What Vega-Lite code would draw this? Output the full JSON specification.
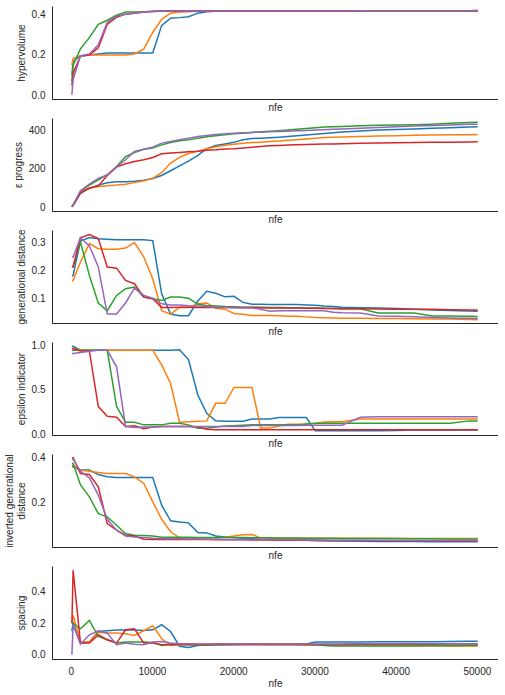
{
"$schema":"https://vega.github.io/schema/vega-lite/v6.json",
"padding":{"left":4,"top":6,"right":0,"bottom":0},
"bounds":"flush",
"spacing":19,
"config":{"view":{"stroke":null},"font":"Liberation Sans",
"axis":{"domainColor":"#262626","domainWidth":1,"labelColor":"#262626","titleColor":"#262626","labelFontSize":10,"titleFontSize":10,"titleFontWeight":"normal","grid":false,"ticks":false,"labelPadding":7},
"axisY":{"titlePadding":5},
"line":{"strokeWidth":1.5}},
"data":{"values":[
{"r":"a","x":150,"hv":0.1,"ep":2,"gd":0.18,"ei":0.989,"igd":0.36,"sp":0.15},
{"r":"a","x":300,"hv":0.17,"ep":10,"gd":0.182,"ei":0.989,"igd":0.36,"sp":0.2},
{"r":"a","x":1200,"hv":0.195,"ep":72,"gd":0.305,"ei":0.944,"igd":0.345,"sp":0.074},
{"r":"a","x":2300,"hv":0.2,"ep":99,"gd":0.318,"ei":0.944,"igd":0.345,"sp":0.08},
{"r":"a","x":3400,"hv":0.205,"ep":115,"gd":0.314,"ei":0.944,"igd":0.325,"sp":0.147},
{"r":"a","x":4500,"hv":0.21,"ep":127,"gd":0.312,"ei":0.944,"igd":0.315,"sp":0.152},
{"r":"a","x":5650,"hv":0.21,"ep":132,"gd":0.31,"ei":0.944,"igd":0.312,"sp":0.156},
{"r":"a","x":6750,"hv":0.21,"ep":133,"gd":0.31,"ei":0.944,"igd":0.312,"sp":0.156},
{"r":"a","x":7850,"hv":0.21,"ep":135,"gd":0.31,"ei":0.944,"igd":0.312,"sp":0.156},
{"r":"a","x":9000,"hv":0.21,"ep":140,"gd":0.31,"ei":0.944,"igd":0.312,"sp":0.154},
{"r":"a","x":10100,"hv":0.21,"ep":150,"gd":0.307,"ei":0.944,"igd":0.312,"sp":0.158},
{"r":"a","x":11200,"hv":0.345,"ep":165,"gd":0.116,"ei":0.944,"igd":0.188,"sp":0.19},
{"r":"a","x":12300,"hv":0.38,"ep":190,"gd":0.043,"ei":0.944,"igd":0.118,"sp":0.147},
{"r":"a","x":13400,"hv":0.383,"ep":215,"gd":0.037,"ei":0.95,"igd":0.113,"sp":0.053},
{"r":"a","x":14500,"hv":0.387,"ep":240,"gd":0.037,"ei":0.84,"igd":0.109,"sp":0.046},
{"r":"a","x":15650,"hv":0.405,"ep":270,"gd":0.09,"ei":0.44,"igd":0.066,"sp":0.059},
{"r":"a","x":16750,"hv":0.412,"ep":305,"gd":0.125,"ei":0.235,"igd":0.064,"sp":0.063},
{"r":"a","x":17850,"hv":0.414,"ep":322,"gd":0.118,"ei":0.15,"igd":0.05,"sp":0.068},
{"r":"a","x":19000,"hv":0.415,"ep":330,"gd":0.105,"ei":0.145,"igd":0.046,"sp":0.068},
{"r":"a","x":20100,"hv":0.415,"ep":338,"gd":0.107,"ei":0.145,"igd":0.043,"sp":0.068},
{"r":"a","x":21200,"hv":0.415,"ep":352,"gd":0.085,"ei":0.145,"igd":0.04,"sp":0.068},
{"r":"a","x":22300,"hv":0.415,"ep":358,"gd":0.078,"ei":0.169,"igd":0.038,"sp":0.068},
{"r":"a","x":23400,"hv":0.415,"ep":360,"gd":0.078,"ei":0.169,"igd":0.036,"sp":0.068},
{"r":"a","x":24500,"hv":0.415,"ep":362,"gd":0.077,"ei":0.169,"igd":0.035,"sp":0.068},
{"r":"a","x":25650,"hv":0.415,"ep":365,"gd":0.077,"ei":0.187,"igd":0.034,"sp":0.068},
{"r":"a","x":26750,"hv":0.415,"ep":368,"gd":0.077,"ei":0.187,"igd":0.033,"sp":0.068},
{"r":"a","x":27850,"hv":0.415,"ep":372,"gd":0.077,"ei":0.187,"igd":0.032,"sp":0.068},
{"r":"a","x":29000,"hv":0.415,"ep":376,"gd":0.076,"ei":0.187,"igd":0.031,"sp":0.068},
{"r":"a","x":30100,"hv":0.415,"ep":380,"gd":0.075,"ei":0.037,"igd":0.03,"sp":0.08},
{"r":"a","x":31200,"hv":0.415,"ep":384,"gd":0.072,"ei":0.037,"igd":0.029,"sp":0.08},
{"r":"a","x":32300,"hv":0.415,"ep":388,"gd":0.07,"ei":0.037,"igd":0.028,"sp":0.08},
{"r":"a","x":33400,"hv":0.415,"ep":392,"gd":0.068,"ei":0.037,"igd":0.028,"sp":0.08},
{"r":"a","x":35650,"hv":0.416,"ep":397,"gd":0.066,"ei":0.037,"igd":0.027,"sp":0.081},
{"r":"a","x":37850,"hv":0.416,"ep":402,"gd":0.065,"ei":0.037,"igd":0.026,"sp":0.082},
{"r":"a","x":40100,"hv":0.416,"ep":405,"gd":0.063,"ei":0.04,"igd":0.026,"sp":0.082},
{"r":"a","x":42300,"hv":0.416,"ep":408,"gd":0.06,"ei":0.045,"igd":0.026,"sp":0.083},
{"r":"a","x":44500,"hv":0.416,"ep":411,"gd":0.058,"ei":0.045,"igd":0.025,"sp":0.083},
{"r":"a","x":46750,"hv":0.416,"ep":414,"gd":0.056,"ei":0.045,"igd":0.025,"sp":0.084},
{"r":"a","x":49000,"hv":0.416,"ep":418,"gd":0.054,"ei":0.045,"igd":0.025,"sp":0.085},
{"r":"a","x":50100,"hv":0.416,"ep":420,"gd":0.053,"ei":0.045,"igd":0.025,"sp":0.085},
{"r":"b","x":150,"hv":0.15,"ep":2,"gd":0.164,"ei":0.963,"igd":0.367,"sp":0.2},
{"r":"b","x":300,"hv":0.185,"ep":10,"gd":0.164,"ei":0.963,"igd":0.367,"sp":0.25},
{"r":"b","x":1200,"hv":0.195,"ep":80,"gd":0.23,"ei":0.944,"igd":0.345,"sp":0.08},
{"r":"b","x":2300,"hv":0.2,"ep":100,"gd":0.296,"ei":0.944,"igd":0.34,"sp":0.08},
{"r":"b","x":3400,"hv":0.2,"ep":108,"gd":0.278,"ei":0.944,"igd":0.334,"sp":0.143},
{"r":"b","x":4500,"hv":0.2,"ep":112,"gd":0.276,"ei":0.944,"igd":0.33,"sp":0.137},
{"r":"b","x":5650,"hv":0.2,"ep":115,"gd":0.276,"ei":0.944,"igd":0.33,"sp":0.137},
{"r":"b","x":6750,"hv":0.2,"ep":120,"gd":0.28,"ei":0.944,"igd":0.33,"sp":0.133},
{"r":"b","x":7850,"hv":0.205,"ep":128,"gd":0.3,"ei":0.944,"igd":0.315,"sp":0.122},
{"r":"b","x":9000,"hv":0.23,"ep":138,"gd":0.248,"ei":0.944,"igd":0.285,"sp":0.152},
{"r":"b","x":10100,"hv":0.31,"ep":150,"gd":0.17,"ei":0.944,"igd":0.203,"sp":0.183},
{"r":"b","x":11200,"hv":0.375,"ep":180,"gd":0.055,"ei":0.78,"igd":0.125,"sp":0.101},
{"r":"b","x":12300,"hv":0.405,"ep":230,"gd":0.043,"ei":0.57,"igd":0.069,"sp":0.059},
{"r":"b","x":13400,"hv":0.41,"ep":260,"gd":0.067,"ei":0.134,"igd":0.042,"sp":0.063},
{"r":"b","x":14500,"hv":0.412,"ep":280,"gd":0.067,"ei":0.14,"igd":0.04,"sp":0.065},
{"r":"b","x":15650,"hv":0.414,"ep":292,"gd":0.08,"ei":0.145,"igd":0.04,"sp":0.065},
{"r":"b","x":16750,"hv":0.415,"ep":305,"gd":0.083,"ei":0.149,"igd":0.042,"sp":0.065},
{"r":"b","x":17850,"hv":0.415,"ep":315,"gd":0.064,"ei":0.347,"igd":0.042,"sp":0.065},
{"r":"b","x":19000,"hv":0.415,"ep":323,"gd":0.06,"ei":0.347,"igd":0.045,"sp":0.065},
{"r":"b","x":20100,"hv":0.415,"ep":328,"gd":0.045,"ei":0.526,"igd":0.05,"sp":0.065},
{"r":"b","x":21200,"hv":0.415,"ep":333,"gd":0.042,"ei":0.526,"igd":0.056,"sp":0.065},
{"r":"b","x":22300,"hv":0.415,"ep":337,"gd":0.038,"ei":0.526,"igd":0.057,"sp":0.065},
{"r":"b","x":23400,"hv":0.415,"ep":339,"gd":0.038,"ei":0.07,"igd":0.042,"sp":0.065},
{"r":"b","x":24500,"hv":0.415,"ep":342,"gd":0.038,"ei":0.07,"igd":0.04,"sp":0.064},
{"r":"b","x":25650,"hv":0.415,"ep":345,"gd":0.037,"ei":0.09,"igd":0.04,"sp":0.064},
{"r":"b","x":26750,"hv":0.415,"ep":349,"gd":0.035,"ei":0.11,"igd":0.04,"sp":0.063},
{"r":"b","x":27850,"hv":0.415,"ep":352,"gd":0.035,"ei":0.112,"igd":0.04,"sp":0.063},
{"r":"b","x":29000,"hv":0.415,"ep":356,"gd":0.033,"ei":0.112,"igd":0.04,"sp":0.062},
{"r":"b","x":30100,"hv":0.415,"ep":360,"gd":0.031,"ei":0.12,"igd":0.04,"sp":0.062},
{"r":"b","x":31200,"hv":0.415,"ep":363,"gd":0.03,"ei":0.135,"igd":0.04,"sp":0.061},
{"r":"b","x":32300,"hv":0.415,"ep":365,"gd":0.029,"ei":0.14,"igd":0.04,"sp":0.06},
{"r":"b","x":33400,"hv":0.415,"ep":366,"gd":0.028,"ei":0.14,"igd":0.04,"sp":0.06},
{"r":"b","x":35650,"hv":0.416,"ep":369,"gd":0.028,"ei":0.17,"igd":0.04,"sp":0.059},
{"r":"b","x":37850,"hv":0.416,"ep":371,"gd":0.027,"ei":0.17,"igd":0.04,"sp":0.058},
{"r":"b","x":40100,"hv":0.416,"ep":373,"gd":0.027,"ei":0.17,"igd":0.04,"sp":0.058},
{"r":"b","x":42300,"hv":0.416,"ep":375,"gd":0.026,"ei":0.17,"igd":0.039,"sp":0.057},
{"r":"b","x":44500,"hv":0.416,"ep":376,"gd":0.025,"ei":0.17,"igd":0.039,"sp":0.057},
{"r":"b","x":46750,"hv":0.416,"ep":377,"gd":0.025,"ei":0.17,"igd":0.039,"sp":0.056},
{"r":"b","x":49000,"hv":0.416,"ep":378,"gd":0.024,"ei":0.17,"igd":0.039,"sp":0.055},
{"r":"b","x":50100,"hv":0.417,"ep":379,"gd":0.023,"ei":0.17,"igd":0.039,"sp":0.055},
{"r":"c","x":150,"hv":0.07,"ep":2,"gd":0.212,"ei":0.944,"igd":0.375,"sp":0.2},
{"r":"c","x":300,"hv":0.15,"ep":10,"gd":0.212,"ei":0.944,"igd":0.375,"sp":0.2},
{"r":"c","x":1200,"hv":0.23,"ep":82,"gd":0.302,"ei":0.944,"igd":0.28,"sp":0.164},
{"r":"c","x":2300,"hv":0.285,"ep":115,"gd":0.182,"ei":0.944,"igd":0.225,"sp":0.217},
{"r":"c","x":3400,"hv":0.35,"ep":143,"gd":0.083,"ei":0.944,"igd":0.15,"sp":0.116},
{"r":"c","x":4500,"hv":0.37,"ep":169,"gd":0.055,"ei":0.944,"igd":0.136,"sp":0.095},
{"r":"c","x":5650,"hv":0.395,"ep":212,"gd":0.11,"ei":0.31,"igd":0.098,"sp":0.074},
{"r":"c","x":6750,"hv":0.41,"ep":264,"gd":0.134,"ei":0.134,"igd":0.061,"sp":0.08},
{"r":"c","x":7850,"hv":0.41,"ep":285,"gd":0.14,"ei":0.134,"igd":0.054,"sp":0.08},
{"r":"c","x":9000,"hv":0.412,"ep":302,"gd":0.104,"ei":0.104,"igd":0.052,"sp":0.08},
{"r":"c","x":10100,"hv":0.414,"ep":308,"gd":0.098,"ei":0.104,"igd":0.05,"sp":0.078},
{"r":"c","x":11200,"hv":0.415,"ep":325,"gd":0.092,"ei":0.104,"igd":0.045,"sp":0.059},
{"r":"c","x":12300,"hv":0.415,"ep":337,"gd":0.104,"ei":0.123,"igd":0.045,"sp":0.065},
{"r":"c","x":13400,"hv":0.415,"ep":346,"gd":0.104,"ei":0.123,"igd":0.045,"sp":0.065},
{"r":"c","x":14500,"hv":0.415,"ep":351,"gd":0.1,"ei":0.104,"igd":0.045,"sp":0.063},
{"r":"c","x":15650,"hv":0.415,"ep":360,"gd":0.078,"ei":0.067,"igd":0.044,"sp":0.062},
{"r":"c","x":16750,"hv":0.415,"ep":367,"gd":0.074,"ei":0.067,"igd":0.044,"sp":0.06},
{"r":"c","x":17850,"hv":0.415,"ep":372,"gd":0.072,"ei":0.08,"igd":0.044,"sp":0.062},
{"r":"c","x":19000,"hv":0.415,"ep":377,"gd":0.07,"ei":0.09,"igd":0.043,"sp":0.063},
{"r":"c","x":20100,"hv":0.415,"ep":383,"gd":0.069,"ei":0.095,"igd":0.043,"sp":0.064},
{"r":"c","x":21200,"hv":0.415,"ep":386,"gd":0.068,"ei":0.1,"igd":0.043,"sp":0.065},
{"r":"c","x":22300,"hv":0.415,"ep":390,"gd":0.068,"ei":0.104,"igd":0.042,"sp":0.065},
{"r":"c","x":23400,"hv":0.415,"ep":393,"gd":0.068,"ei":0.104,"igd":0.042,"sp":0.065},
{"r":"c","x":24500,"hv":0.415,"ep":396,"gd":0.067,"ei":0.104,"igd":0.042,"sp":0.065},
{"r":"c","x":25650,"hv":0.415,"ep":399,"gd":0.067,"ei":0.104,"igd":0.041,"sp":0.065},
{"r":"c","x":26750,"hv":0.415,"ep":402,"gd":0.066,"ei":0.104,"igd":0.041,"sp":0.065},
{"r":"c","x":27850,"hv":0.415,"ep":406,"gd":0.066,"ei":0.104,"igd":0.041,"sp":0.065},
{"r":"c","x":29000,"hv":0.415,"ep":410,"gd":0.065,"ei":0.115,"igd":0.04,"sp":0.064},
{"r":"c","x":30100,"hv":0.415,"ep":414,"gd":0.065,"ei":0.122,"igd":0.04,"sp":0.064},
{"r":"c","x":31200,"hv":0.415,"ep":418,"gd":0.064,"ei":0.122,"igd":0.04,"sp":0.058},
{"r":"c","x":32300,"hv":0.415,"ep":420,"gd":0.063,"ei":0.122,"igd":0.04,"sp":0.055},
{"r":"c","x":33400,"hv":0.415,"ep":421,"gd":0.062,"ei":0.122,"igd":0.039,"sp":0.055},
{"r":"c","x":35650,"hv":0.416,"ep":424,"gd":0.062,"ei":0.122,"igd":0.039,"sp":0.055},
{"r":"c","x":37850,"hv":0.416,"ep":427,"gd":0.047,"ei":0.122,"igd":0.039,"sp":0.055},
{"r":"c","x":40100,"hv":0.416,"ep":428,"gd":0.047,"ei":0.122,"igd":0.038,"sp":0.056},
{"r":"c","x":42300,"hv":0.416,"ep":430,"gd":0.047,"ei":0.122,"igd":0.038,"sp":0.056},
{"r":"c","x":44500,"hv":0.416,"ep":433,"gd":0.036,"ei":0.122,"igd":0.038,"sp":0.057},
{"r":"c","x":46750,"hv":0.416,"ep":437,"gd":0.036,"ei":0.122,"igd":0.037,"sp":0.057},
{"r":"c","x":49000,"hv":0.416,"ep":441,"gd":0.035,"ei":0.149,"igd":0.037,"sp":0.058},
{"r":"c","x":50100,"hv":0.417,"ep":443,"gd":0.034,"ei":0.149,"igd":0.037,"sp":0.058},
{"r":"d","x":150,"hv":0.05,"ep":2,"gd":0.212,"ei":0.963,"igd":0.4,"sp":0.2},
{"r":"d","x":300,"hv":0.11,"ep":10,"gd":0.215,"ei":0.963,"igd":0.4,"sp":0.535},
{"r":"d","x":1200,"hv":0.195,"ep":73,"gd":0.317,"ei":0.937,"igd":0.33,"sp":0.074},
{"r":"d","x":2300,"hv":0.2,"ep":99,"gd":0.329,"ei":0.937,"igd":0.325,"sp":0.074},
{"r":"d","x":3400,"hv":0.235,"ep":111,"gd":0.314,"ei":0.31,"igd":0.27,"sp":0.126},
{"r":"d","x":4500,"hv":0.35,"ep":165,"gd":0.212,"ei":0.2,"igd":0.106,"sp":0.095},
{"r":"d","x":5650,"hv":0.385,"ep":209,"gd":0.208,"ei":0.19,"igd":0.076,"sp":0.074},
{"r":"d","x":6750,"hv":0.4,"ep":226,"gd":0.164,"ei":0.086,"igd":0.054,"sp":0.158},
{"r":"d","x":7850,"hv":0.405,"ep":238,"gd":0.152,"ei":0.095,"igd":0.05,"sp":0.164},
{"r":"d","x":9000,"hv":0.41,"ep":247,"gd":0.104,"ei":0.06,"igd":0.036,"sp":0.074},
{"r":"d","x":10100,"hv":0.413,"ep":259,"gd":0.098,"ei":0.08,"igd":0.035,"sp":0.074},
{"r":"d","x":11200,"hv":0.415,"ep":278,"gd":0.067,"ei":0.085,"igd":0.035,"sp":0.063},
{"r":"d","x":12300,"hv":0.416,"ep":282,"gd":0.067,"ei":0.085,"igd":0.035,"sp":0.065},
{"r":"d","x":13400,"hv":0.416,"ep":285,"gd":0.068,"ei":0.085,"igd":0.034,"sp":0.065},
{"r":"d","x":14500,"hv":0.416,"ep":289,"gd":0.068,"ei":0.085,"igd":0.034,"sp":0.065},
{"r":"d","x":15650,"hv":0.416,"ep":292,"gd":0.067,"ei":0.08,"igd":0.034,"sp":0.065},
{"r":"d","x":16750,"hv":0.416,"ep":297,"gd":0.067,"ei":0.055,"igd":0.034,"sp":0.065},
{"r":"d","x":17850,"hv":0.416,"ep":299,"gd":0.067,"ei":0.05,"igd":0.033,"sp":0.065},
{"r":"d","x":19000,"hv":0.416,"ep":303,"gd":0.067,"ei":0.05,"igd":0.033,"sp":0.065},
{"r":"d","x":20100,"hv":0.416,"ep":304,"gd":0.067,"ei":0.05,"igd":0.033,"sp":0.065},
{"r":"d","x":21200,"hv":0.416,"ep":308,"gd":0.067,"ei":0.05,"igd":0.033,"sp":0.065},
{"r":"d","x":22300,"hv":0.416,"ep":313,"gd":0.067,"ei":0.05,"igd":0.032,"sp":0.065},
{"r":"d","x":23400,"hv":0.416,"ep":316,"gd":0.066,"ei":0.05,"igd":0.032,"sp":0.065},
{"r":"d","x":24500,"hv":0.416,"ep":320,"gd":0.065,"ei":0.05,"igd":0.032,"sp":0.065},
{"r":"d","x":25650,"hv":0.416,"ep":322,"gd":0.065,"ei":0.049,"igd":0.031,"sp":0.065},
{"r":"d","x":26750,"hv":0.416,"ep":324,"gd":0.065,"ei":0.049,"igd":0.031,"sp":0.065},
{"r":"d","x":27850,"hv":0.416,"ep":326,"gd":0.065,"ei":0.049,"igd":0.031,"sp":0.065},
{"r":"d","x":29000,"hv":0.416,"ep":327,"gd":0.064,"ei":0.049,"igd":0.031,"sp":0.065},
{"r":"d","x":30100,"hv":0.416,"ep":328,"gd":0.064,"ei":0.048,"igd":0.03,"sp":0.065},
{"r":"d","x":31200,"hv":0.416,"ep":329,"gd":0.063,"ei":0.048,"igd":0.03,"sp":0.065},
{"r":"d","x":32300,"hv":0.416,"ep":330,"gd":0.063,"ei":0.048,"igd":0.03,"sp":0.065},
{"r":"d","x":33400,"hv":0.416,"ep":331,"gd":0.062,"ei":0.048,"igd":0.03,"sp":0.065},
{"r":"d","x":35650,"hv":0.417,"ep":333,"gd":0.062,"ei":0.048,"igd":0.03,"sp":0.066},
{"r":"d","x":37850,"hv":0.417,"ep":335,"gd":0.061,"ei":0.048,"igd":0.029,"sp":0.066},
{"r":"d","x":40100,"hv":0.417,"ep":336,"gd":0.06,"ei":0.048,"igd":0.029,"sp":0.067},
{"r":"d","x":42300,"hv":0.417,"ep":337,"gd":0.06,"ei":0.048,"igd":0.029,"sp":0.067},
{"r":"d","x":44500,"hv":0.417,"ep":338,"gd":0.06,"ei":0.048,"igd":0.029,"sp":0.067},
{"r":"d","x":46750,"hv":0.417,"ep":339,"gd":0.059,"ei":0.048,"igd":0.028,"sp":0.068},
{"r":"d","x":49000,"hv":0.417,"ep":340,"gd":0.058,"ei":0.048,"igd":0.028,"sp":0.068},
{"r":"d","x":50100,"hv":0.418,"ep":341,"gd":0.058,"ei":0.048,"igd":0.028,"sp":0.068},
{"r":"e","x":150,"hv":0.005,"ep":2,"gd":0.248,"ei":0.907,"igd":0.394,"sp":0.0},
{"r":"e","x":300,"hv":0.08,"ep":10,"gd":0.248,"ei":0.907,"igd":0.394,"sp":0.19},
{"r":"e","x":1200,"hv":0.195,"ep":85,"gd":0.317,"ei":0.918,"igd":0.34,"sp":0.067},
{"r":"e","x":2300,"hv":0.205,"ep":120,"gd":0.288,"ei":0.933,"igd":0.31,"sp":0.126},
{"r":"e","x":3400,"hv":0.25,"ep":150,"gd":0.212,"ei":0.944,"igd":0.233,"sp":0.152},
{"r":"e","x":4500,"hv":0.36,"ep":168,"gd":0.043,"ei":0.944,"igd":0.125,"sp":0.137},
{"r":"e","x":5650,"hv":0.39,"ep":209,"gd":0.043,"ei":0.757,"igd":0.076,"sp":0.063},
{"r":"e","x":6750,"hv":0.4,"ep":247,"gd":0.083,"ei":0.086,"igd":0.05,"sp":0.074},
{"r":"e","x":7850,"hv":0.405,"ep":290,"gd":0.136,"ei":0.075,"igd":0.046,"sp":0.067},
{"r":"e","x":9000,"hv":0.41,"ep":302,"gd":0.11,"ei":0.08,"igd":0.043,"sp":0.063},
{"r":"e","x":10100,"hv":0.413,"ep":313,"gd":0.1,"ei":0.08,"igd":0.04,"sp":0.08},
{"r":"e","x":11200,"hv":0.415,"ep":334,"gd":0.08,"ei":0.085,"igd":0.039,"sp":0.084},
{"r":"e","x":12300,"hv":0.416,"ep":343,"gd":0.076,"ei":0.085,"igd":0.038,"sp":0.074},
{"r":"e","x":13400,"hv":0.416,"ep":351,"gd":0.076,"ei":0.085,"igd":0.038,"sp":0.07},
{"r":"e","x":14500,"hv":0.416,"ep":360,"gd":0.073,"ei":0.085,"igd":0.037,"sp":0.069},
{"r":"e","x":15650,"hv":0.416,"ep":369,"gd":0.072,"ei":0.085,"igd":0.037,"sp":0.068},
{"r":"e","x":16750,"hv":0.416,"ep":374,"gd":0.07,"ei":0.085,"igd":0.036,"sp":0.068},
{"r":"e","x":17850,"hv":0.416,"ep":379,"gd":0.068,"ei":0.085,"igd":0.036,"sp":0.068},
{"r":"e","x":19000,"hv":0.416,"ep":383,"gd":0.067,"ei":0.085,"igd":0.035,"sp":0.068},
{"r":"e","x":20100,"hv":0.416,"ep":386,"gd":0.066,"ei":0.085,"igd":0.035,"sp":0.068},
{"r":"e","x":21200,"hv":0.416,"ep":388,"gd":0.065,"ei":0.085,"igd":0.035,"sp":0.068},
{"r":"e","x":22300,"hv":0.416,"ep":390,"gd":0.065,"ei":0.097,"igd":0.034,"sp":0.068},
{"r":"e","x":23400,"hv":0.416,"ep":391,"gd":0.06,"ei":0.097,"igd":0.034,"sp":0.068},
{"r":"e","x":24500,"hv":0.416,"ep":393,"gd":0.053,"ei":0.097,"igd":0.034,"sp":0.068},
{"r":"e","x":25650,"hv":0.416,"ep":394,"gd":0.055,"ei":0.098,"igd":0.033,"sp":0.068},
{"r":"e","x":26750,"hv":0.416,"ep":396,"gd":0.055,"ei":0.098,"igd":0.033,"sp":0.068},
{"r":"e","x":27850,"hv":0.416,"ep":398,"gd":0.055,"ei":0.098,"igd":0.033,"sp":0.068},
{"r":"e","x":29000,"hv":0.416,"ep":400,"gd":0.055,"ei":0.099,"igd":0.032,"sp":0.068},
{"r":"e","x":30100,"hv":0.416,"ep":402,"gd":0.055,"ei":0.099,"igd":0.032,"sp":0.068},
{"r":"e","x":31200,"hv":0.416,"ep":404,"gd":0.055,"ei":0.1,"igd":0.032,"sp":0.068},
{"r":"e","x":32300,"hv":0.416,"ep":406,"gd":0.05,"ei":0.1,"igd":0.031,"sp":0.068},
{"r":"e","x":33400,"hv":0.416,"ep":408,"gd":0.048,"ei":0.1,"igd":0.031,"sp":0.068},
{"r":"e","x":35650,"hv":0.417,"ep":412,"gd":0.047,"ei":0.19,"igd":0.031,"sp":0.069},
{"r":"e","x":37850,"hv":0.417,"ep":416,"gd":0.036,"ei":0.195,"igd":0.031,"sp":0.069},
{"r":"e","x":40100,"hv":0.417,"ep":420,"gd":0.035,"ei":0.195,"igd":0.03,"sp":0.07},
{"r":"e","x":42300,"hv":0.417,"ep":423,"gd":0.033,"ei":0.195,"igd":0.03,"sp":0.07},
{"r":"e","x":44500,"hv":0.417,"ep":426,"gd":0.031,"ei":0.195,"igd":0.03,"sp":0.07},
{"r":"e","x":46750,"hv":0.417,"ep":429,"gd":0.029,"ei":0.195,"igd":0.03,"sp":0.07},
{"r":"e","x":49000,"hv":0.417,"ep":432,"gd":0.028,"ei":0.195,"igd":0.03,"sp":0.07},
{"r":"e","x":50100,"hv":0.418,"ep":433,"gd":0.027,"ei":0.195,"igd":0.03,"sp":0.07}
]},
"vconcat":[
{"width":446,"height":93,"mark":{"type":"line","strokeWidth":1.5},
"encoding":{
"x":{"field":"x","type":"quantitative","scale":{"domain":[-2300,52600],"nice":false,"zero":false},"axis":{"title":"nfe","labels":false,"titlePadding":3}},
"y":{"field":"hv","type":"quantitative","scale":{"domain":[-0.016,0.44],"nice":false,"zero":false},"axis":{"values":[0,0.2,0.4],"format":".1f","title":"hypervolume"}},
"color":{"field":"r","type":"nominal","scale":{"domain":["a","b","c","d","e"],"range":["#1f77b4","#ff7f0e","#2ca02c","#d62728","#9467bd"]},"legend":null}}},
{"width":446,"height":93,"mark":{"type":"line","strokeWidth":1.5},
"encoding":{
"x":{"field":"x","type":"quantitative","scale":{"domain":[-2300,52600],"nice":false,"zero":false},"axis":{"title":"nfe","labels":false,"titlePadding":3}},
"y":{"field":"ep","type":"quantitative","scale":{"domain":[-20,465],"nice":false,"zero":false},"axis":{"values":[0,200,400],"format":"d","title":"ε progress"}},
"color":{"field":"r","type":"nominal","scale":{"domain":["a","b","c","d","e"],"range":["#1f77b4","#ff7f0e","#2ca02c","#d62728","#9467bd"]},"legend":null}}},
{"width":446,"height":93,"mark":{"type":"line","strokeWidth":1.5},
"encoding":{
"x":{"field":"x","type":"quantitative","scale":{"domain":[-2300,52600],"nice":false,"zero":false},"axis":{"title":"nfe","labels":false,"titlePadding":3}},
"y":{"field":"gd","type":"quantitative","scale":{"domain":[0.011,0.345],"nice":false,"zero":false},"axis":{"values":[0.1,0.2,0.3],"format":".1f","title":"generational distance"}},
"color":{"field":"r","type":"nominal","scale":{"domain":["a","b","c","d","e"],"range":["#1f77b4","#ff7f0e","#2ca02c","#d62728","#9467bd"]},"legend":null}}},
{"width":446,"height":93,"mark":{"type":"line","strokeWidth":1.5},
"encoding":{
"x":{"field":"x","type":"quantitative","scale":{"domain":[-2300,52600],"nice":false,"zero":false},"axis":{"title":"nfe","labels":false,"titlePadding":3}},
"y":{"field":"ei","type":"quantitative","scale":{"domain":[-0.01,1.037],"nice":false,"zero":false},"axis":{"values":[0,0.5,1],"format":".1f","title":"epsilon indicator"}},
"color":{"field":"r","type":"nominal","scale":{"domain":["a","b","c","d","e"],"range":["#1f77b4","#ff7f0e","#2ca02c","#d62728","#9467bd"]},"legend":null}}},
{"width":446,"height":93,"mark":{"type":"line","strokeWidth":1.5},
"encoding":{
"x":{"field":"x","type":"quantitative","scale":{"domain":[-2300,52600],"nice":false,"zero":false},"axis":{"title":"nfe","labels":false,"titlePadding":3}},
"y":{"field":"igd","type":"quantitative","scale":{"domain":[0.001,0.417],"nice":false,"zero":false},"axis":{"values":[0.2,0.4],"format":".1f","title":["inverted generational","distance"]}},
"color":{"field":"r","type":"nominal","scale":{"domain":["a","b","c","d","e"],"range":["#1f77b4","#ff7f0e","#2ca02c","#d62728","#9467bd"]},"legend":null}}},
{"width":446,"height":93,"mark":{"type":"line","strokeWidth":1.5},
"encoding":{
"x":{"field":"x","type":"quantitative","scale":{"domain":[-2300,52600],"nice":false,"zero":false},"axis":{"title":"nfe","values":[0,10000,20000,30000,40000,50000],"format":"d","labelPadding":7,"titlePadding":2}},
"y":{"field":"sp","type":"quantitative","scale":{"domain":[-0.027,0.562],"nice":false,"zero":false},"axis":{"values":[0,0.2,0.4],"format":".1f","title":"spacing"}},
"color":{"field":"r","type":"nominal","scale":{"domain":["a","b","c","d","e"],"range":["#1f77b4","#ff7f0e","#2ca02c","#d62728","#9467bd"]},"legend":null}}}
]
}
